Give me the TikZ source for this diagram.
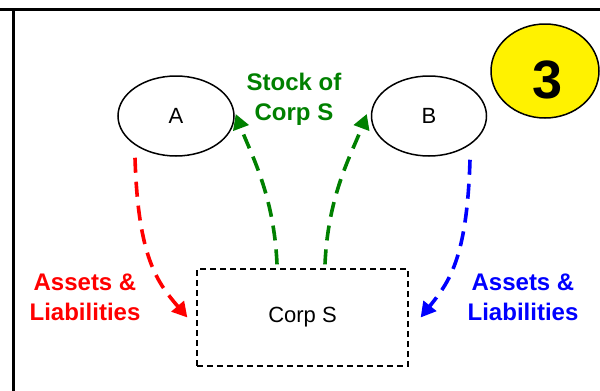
\documentclass[tikz,border=0pt]{standalone}
\usepackage{fontspec}
\setmainfont{Liberation Sans}
\usetikzlibrary{shapes.geometric,arrows.meta}
\definecolor{lgreen}{RGB}{0,128,0}
\tikzset{
  party/.style={draw=black, line width=1.5pt, ellipse, minimum width=116pt, minimum height=80pt, inner sep=0pt, font=\fontsize{22}{26}\selectfont},
  corpbox/.style={draw=black, line width=1.3pt, dash pattern=on 6pt off 4pt, minimum width=211pt, minimum height=97pt, inner sep=0pt, font=\fontsize{22}{26}\selectfont},
  lbl/.style={align=center, inner sep=0pt, font=\fontsize{24}{30}\selectfont\bfseries},
  flow/.style={line width=3.6pt, dash pattern=on 15pt off 9pt, -{Triangle[length=15pt,width=16pt]}},
  frame/.style={line width=3pt}
}
\begin{document}
\begin{tikzpicture}[x=1pt,y=-1pt]
\useasboundingbox (0,0) rectangle (600,391);
\draw[frame] (0,9) -- (600,9);
\draw[frame] (13,9) -- (13,391);
\node[party] (A) at (176,116) {A};
\node[party, minimum width=115pt] (B) at (429,116) {B};
\node[draw=black, fill=yellow, line width=1.5pt, ellipse, minimum width=108pt, minimum height=94pt, inner sep=0pt] (circ) at (545,71) {};
\node[inner sep=0pt, font=\fontsize{54}{60}\selectfont\bfseries] (n3) at (548,80) {3};
\node[corpbox] (S) at (302.5,317.5) {Corp S};
\node[lbl, text=red] (la) at (85,297) {Assets \&\\Liabilities};
\node[lbl, text=blue] (lb) at (523,297) {Assets \&\\Liabilities};
\node[lbl, text=lgreen] (lc) at (294,99) {Stock of\\Corp S};
\draw[flow, draw=red] ([xshift=-41pt,yshift=-1pt]A.south) .. controls +(3,100) and +(-30,-35) .. ([xshift=-9pt]S.west);
\draw[flow, draw=blue] ([xshift=41pt,yshift=-3pt]B.south) .. controls +(-3,100) and +(28,-35) .. ([xshift=12pt]S.east);
\draw[flow, draw=lgreen] ([xshift=-25.5pt,yshift=4pt]S.north) .. controls +(-3,-70) and +(15,40) .. ([xshift=1pt,yshift=2pt]A.east);
\draw[flow, draw=lgreen] ([xshift=22.5pt,yshift=4pt]S.north) .. controls +(3,-70) and +(-15,40) .. ([xshift=-4pt,yshift=2pt]B.west);
\end{tikzpicture}
\end{document}
